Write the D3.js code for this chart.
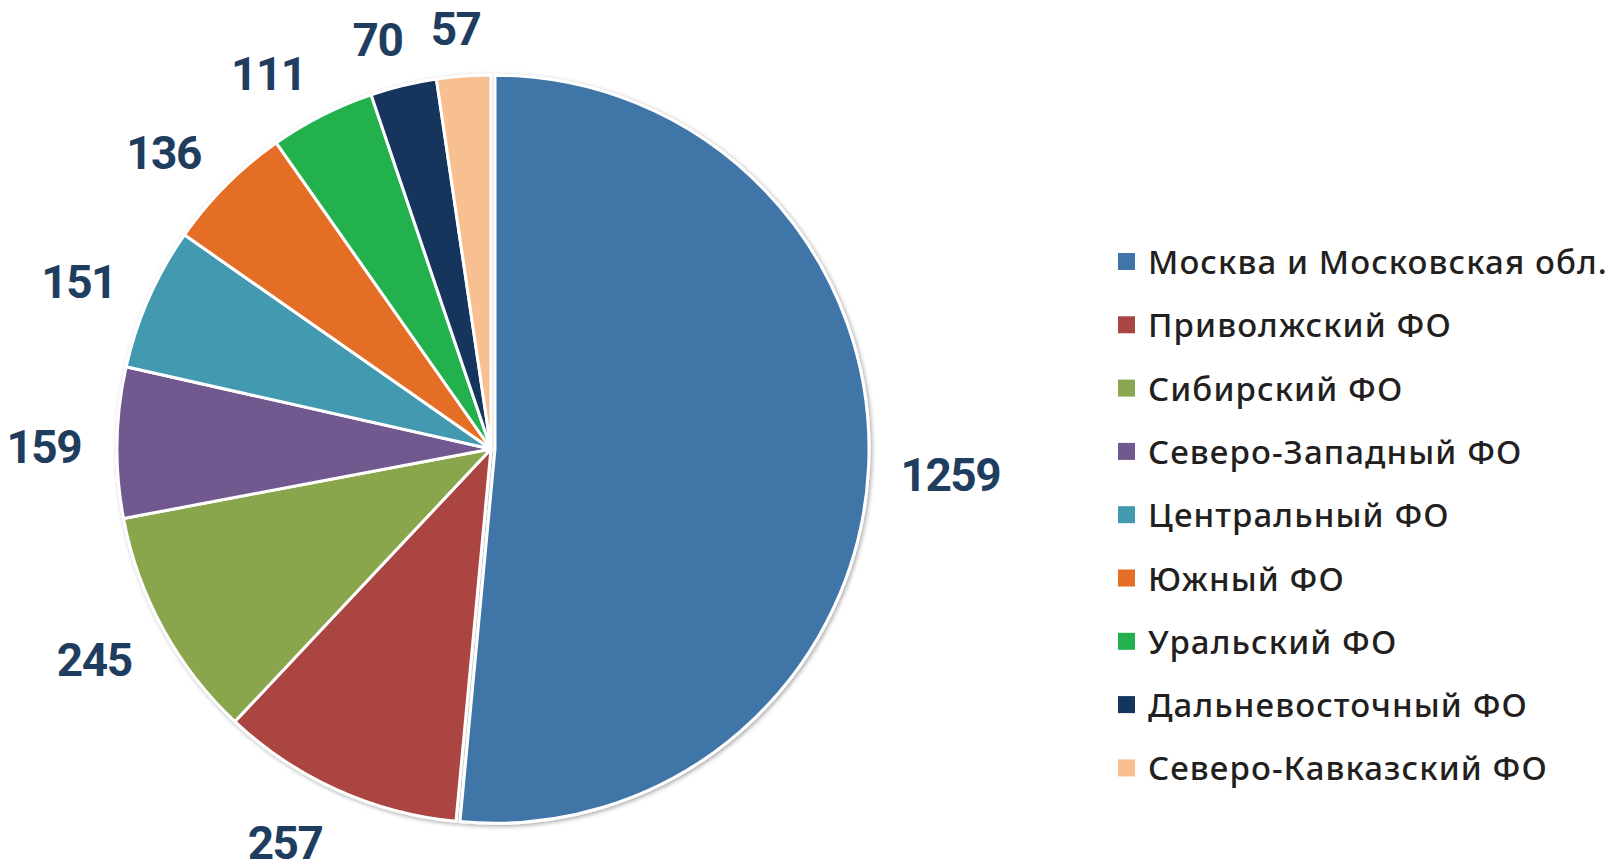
<!DOCTYPE html>
<html>

<head>
    <meta charset="utf-8">
    <title>Pie Chart</title>
    <script src="https://d3js.org/d3.v7.min.js"></script>
    <style>
        body {
            margin: 0;
            background: #ffffff;
        }

        .value-label {
            font-family: Roboto, "Liberation Sans", sans-serif;
            font-weight: 700;
            font-size: 46px;
            letter-spacing: -1.5px;
            fill: #1f3e5f;
        }

        .legend-label {
            font-family: "Noto Sans", "DejaVu Sans", sans-serif;
            font-weight: 500;
            font-size: 33px;
            letter-spacing: 1.1px;
            fill: #231f20;
        }
    </style>
</head>

<body>
    <svg width="1611" height="862" id="pie-chart"></svg>
    <script>
        // data
        const regions = [
            "Москва и Московская обл.",
            "Приволжский ФО",
            "Сибирский ФО",
            "Северо-Западный ФО",
            "Центральный ФО",
            "Южный ФО",
            "Уральский ФО",
            "Дальневосточный ФО",
            "Северо-Кавказский ФО"
        ]
        const counts = [1259, 257, 245, 159, 151, 136, 111, 70, 57]
        const colors = ["#4174a8", "#aa4543", "#8aa64e", "#71588f", "#4299b0",
            "#e56e28", "#22b14d", "#13365d", "#f8c090"]

        const data = regions.map((name, i) => ({ name: name, value: counts[i] }))

        const svg = d3.select("#pie-chart")
        const width = +svg.attr("width")
        const height = +svg.attr("height")

        const cx = 491
        const cy = 449
        const radius = 374

        // soft shadow around the pie
        const defs = svg.append("defs")
        const shadow = defs.append("filter")
            .attr("id", "shadow")
            .attr("x", "-10%").attr("y", "-10%")
            .attr("width", "120%").attr("height", "120%")
        shadow.append("feDropShadow")
            .attr("dx", 1.5)
            .attr("dy", 1.5)
            .attr("stdDeviation", 2)
            .attr("flood-color", "#000000")
            .attr("flood-opacity", 0.35)

        const pie = d3.pie()
            .sort(null)
            .value(d => d.value)

        const arc = d3.arc()
            .innerRadius(0)
            .outerRadius(radius)

        const color = d3.scaleOrdinal()
            .domain(regions)
            .range(colors)

        const arcs = pie(data)

        const g = svg.append("g")
            .attr("transform", `translate(${cx},${cy})`)

        const slices = g.append("g").attr("filter", "url(#shadow)")

        // first slice is pulled out a little
        const explode = d => {
            if (d.index !== 0) return "translate(0,0)"
            const mid = (d.startAngle + d.endAngle) / 2
            return `translate(${4 * Math.sin(mid)},${-4 * Math.cos(mid)})`
        }

        slices.selectAll("path")
            .data(arcs)
            .enter()
            .append("path")
            .attr("d", arc)
            .attr("transform", explode)
            .attr("fill", d => color(d.data.name))
            .attr("stroke", "#ffffff")
            .attr("stroke-width", 3)
            .attr("stroke-linejoin", "round")

        // value labels outside the pie
        const labelR = 410
        const labels = g.selectAll(".value-label")
            .data(arcs)
            .enter()
            .append("text")
            .attr("class", "value-label")
            .attr("text-anchor", "middle")
            .text(d => d.data.value)

        labels.each(function (d) {
            const mid = (d.startAngle + d.endAngle) / 2
            const s = Math.sin(mid)
            const c = Math.cos(mid)
            const w = this.getComputedTextLength()
            const h = 33
            // push the box sideways, less so near the top / bottom
            const side = Math.sign(s) * Math.min(1, Math.abs(s) * 3)
            const x = s * labelR + side * w / 2
            const y = -c * (labelR + h / 2) + 5
            d3.select(this)
                .attr("x", x)
                .attr("y", y + h / 2)
        })

        // legend
        const legend = svg.append("g")
            .attr("transform", "translate(1118,262)")

        const rowStep = d3.scalePoint()
            .domain(regions)
            .range([0, 8 * 63.3])

        const rows = legend.selectAll(".legend-row")
            .data(regions)
            .enter()
            .append("g")
            .attr("class", "legend-row")
            .attr("transform", d => `translate(0,${rowStep(d)})`)

        rows.append("rect")
            .attr("x", 0)
            .attr("y", -9)
            .attr("width", 17)
            .attr("height", 17)
            .attr("fill", d => color(d))

        rows.append("text")
            .attr("class", "legend-label")
            .attr("x", 30)
            .attr("y", 12)
            .text(d => d)
    </script>
</body>

</html>
